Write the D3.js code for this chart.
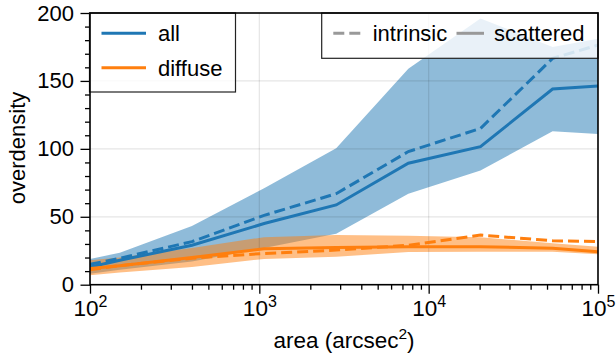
<!DOCTYPE html>
<meta charset="utf-8">

<script src="https://d3js.org/d3.v7.min.js"></script>

<style type="text/css">

body {
  margin: 0;
  background: #fff;
}

svg {
  font-family: "Liberation Sans", Arial, sans-serif;
}

.tick line {
  stroke: #000;
  stroke-width: 1.3;
}

.domain {
  display: none;
}

</style>

<body>
</body>

<script>

// area bins (arcsec^2)
var areas = [100, 150, 400, 1067, 2844, 7585, 20227, 53938, 100000];

// "all" sources
var allScattered = [13, 18, 29, 45, 58.7, 89.4, 101.6, 144, 146.3];
var allIntrinsic = [15, 19.5, 31.7, 51, 67, 98, 115, 166.6, 176.4];
var allLow = [8, 11, 17, 27, 37.5, 67, 84, 113, 111];
var allHigh = [19, 23.5, 43.2, 71, 100.4, 159, 196, 175, 181];

// "diffuse" sources
var diffuseScattered = [12, 14, 20, 26.5, 27.3, 28, 28, 26.8, 24.3];
var diffuseIntrinsic = [11, 14, 19.5, 23, 25.5, 29, 36.5, 32.4, 31.7];
var diffuseLow = [7, 9, 13, 19, 20.6, 24, 24.3, 24.3, 22.5];
var diffuseHigh = [18, 20, 27, 35, 36.6, 36, 35, 30.5, 28];

var yTicks = [0, 50, 100, 150, 200];
var xTicks = [1e2, 1e3, 1e4, 1e5];

var width = 616;
var height = 361;

var mLeft = 90, mRight = 598, mTop = 13, mBottom = 284.7;

var blue = "#1f77b4";
var orange = "#ff7f0e";

var svg = d3.select("body").append("svg")
  .attr("width", width)
  .attr("height", height);

var xScale = d3.scaleLog()
  .domain([1e2, 1e5])
  .range([mLeft, mRight]);

var yScale = d3.scaleLinear()
  .domain([0, 200])
  .range([mBottom, mTop]);

function rows(lo, hi) {
  return areas.map(function(a, i) { return {a: a, lo: lo[i], hi: hi[i]}; });
}

function pts(vals) {
  return areas.map(function(a, i) { return {a: a, v: vals[i]}; });
}

var band = d3.area()
  .x(function(d) { return xScale(d.a); })
  .y0(function(d) { return yScale(d.lo); })
  .y1(function(d) { return yScale(d.hi); });

var line = d3.line()
  .x(function(d) { return xScale(d.a); })
  .y(function(d) { return yScale(d.v); });

svg.append("clipPath").attr("id", "plot")
  .append("rect")
  .attr("x", mLeft).attr("y", mTop)
  .attr("width", mRight - mLeft).attr("height", mBottom - mTop);

var plot = svg.append("g").attr("clip-path", "url(#plot)");

// bands
plot.append("path")
  .datum(rows(allLow, allHigh))
  .attr("d", band)
  .attr("fill", blue)
  .attr("fill-opacity", 0.5);

plot.append("path")
  .datum(rows(diffuseLow, diffuseHigh))
  .attr("d", band)
  .attr("fill", orange)
  .attr("fill-opacity", 0.5);

// grid
plot.selectAll(".hgrid")
  .data(yTicks).enter().append("line")
  .attr("class", "hgrid")
  .attr("x1", mLeft).attr("x2", mRight)
  .attr("y1", function(d) { return yScale(d); })
  .attr("y2", function(d) { return yScale(d); })
  .attr("stroke", "rgba(0,0,0,0.1)")
  .attr("stroke-width", 1.2);

plot.selectAll(".vgrid")
  .data(xTicks).enter().append("line")
  .attr("class", "vgrid")
  .attr("y1", mTop).attr("y2", mBottom)
  .attr("x1", function(d) { return xScale(d); })
  .attr("x2", function(d) { return xScale(d); })
  .attr("stroke", "rgba(0,0,0,0.1)")
  .attr("stroke-width", 1.2);

// lines
var series = [
  {vals: allIntrinsic, color: blue, dash: "11,5"},
  {vals: allScattered, color: blue, dash: null},
  {vals: diffuseIntrinsic, color: orange, dash: "11,5"},
  {vals: diffuseScattered, color: orange, dash: null}
];

plot.selectAll(".series")
  .data(series).enter().append("path")
  .attr("class", "series")
  .attr("d", function(d) { return line(pts(d.vals)); })
  .attr("fill", "none")
  .attr("stroke", function(d) { return d.color; })
  .attr("stroke-width", 3)
  .attr("stroke-dasharray", function(d) { return d.dash; });

// axes
var yAxis = svg.append("g")
  .attr("transform", "translate(" + mLeft + ",0)")
  .call(d3.axisLeft(yScale).tickValues(yTicks).tickSize(9.5).tickPadding(6.5));

yAxis.selectAll("text")
  .attr("font-size", 22)
  .attr("fill", "#000");

svg.append("g")
  .attr("transform", "translate(" + mLeft + ",0)")
  .call(d3.axisLeft(yScale).tickValues(d3.range(0, 201, 10).filter(function(v) { return v % 50; }))
    .tickSize(5).tickFormat(""));

var minorX = [];
[1e2, 1e3, 1e4].forEach(function(dec) {
  for (var k = 2; k < 10; k++) minorX.push(dec * k);
});

var xAxis = svg.append("g")
  .attr("transform", "translate(0," + mBottom + ")")
  .call(d3.axisBottom(xScale).tickValues(xTicks).tickSize(9).tickPadding(8).tickFormat(""));

xAxis.selectAll(".tick").append("text")
  .attr("y", 31.5)
  .attr("text-anchor", "middle")
  .attr("font-size", 22.5)
  .attr("fill", "#000")
  .each(function(d) {
    var t = d3.select(this);
    t.append("tspan").text("10");
    t.append("tspan")
      .attr("font-size", 16)
      .attr("dy", -9.5)
      .text(Math.round(Math.log10(d)));
  });

svg.append("g")
  .attr("transform", "translate(0," + mBottom + ")")
  .call(d3.axisBottom(xScale).tickValues(minorX).tickSize(5).tickFormat(""));

// axis labels
svg.append("text")
  .attr("transform", "translate(25,148) rotate(-90)")
  .attr("text-anchor", "middle")
  .attr("font-size", 22)
  .text("overdensity");

var xLabel = svg.append("text")
  .attr("x", (mLeft + mRight) / 2)
  .attr("y", 348)
  .attr("text-anchor", "middle")
  .attr("font-size", 22.5);
xLabel.append("tspan").text("area (arcsec");
xLabel.append("tspan").attr("font-size", 15.5).attr("dy", -9).text("2");
xLabel.append("tspan").attr("dy", 9).text(")");

// legend: colours
var leg1 = svg.append("g");
leg1.append("rect")
  .attr("x", 89.5).attr("y", 13)
  .attr("width", 146).attr("height", 79)
  .attr("fill", "rgba(255,255,255,0.8)")
  .attr("stroke", "#222")
  .attr("stroke-width", 1.2);

var leg1Items = [{name: "all", color: blue, y: 33.3}, {name: "diffuse", color: orange, y: 67.7}];

var leg1Row = leg1.selectAll(".leg1Row")
  .data(leg1Items).enter().append("g")
  .attr("class", "leg1Row")
  .attr("transform", function(d) { return "translate(0," + d.y + ")"; });

leg1Row.append("line")
  .attr("x1", 101.5).attr("x2", 146)
  .attr("stroke", function(d) { return d.color; })
  .attr("stroke-width", 3);

leg1Row.append("text")
  .attr("x", 158).attr("y", 8)
  .attr("font-size", 22)
  .text(function(d) { return d.name; });

// legend: line styles
var leg2 = svg.append("g");
leg2.append("rect")
  .attr("x", 321.7).attr("y", 13)
  .attr("width", mRight - 321.7).attr("height", 45.3)
  .attr("fill", "rgba(255,255,255,0.8)")
  .attr("stroke", "#222")
  .attr("stroke-width", 1.2);

var leg2Items = [
  {name: "intrinsic", dash: "11,5", x: 333.3, tx: 372.7},
  {name: "scattered", dash: null, x: 456.5, tx: 494}
];

var leg2Row = leg2.selectAll(".leg2Row")
  .data(leg2Items).enter().append("g")
  .attr("class", "leg2Row")
  .attr("transform", "translate(0,33.3)");

leg2Row.append("line")
  .attr("x1", function(d) { return d.x; })
  .attr("x2", function(d) { return d.x + 27.5; })
  .attr("stroke", "#999")
  .attr("stroke-width", 3)
  .attr("stroke-dasharray", function(d) { return d.dash; });

leg2Row.append("text")
  .attr("x", function(d) { return d.tx; }).attr("y", 8)
  .attr("font-size", 22)
  .text(function(d) { return d.name; });

// frame
svg.append("rect")
  .attr("x", mLeft).attr("y", mTop)
  .attr("width", mRight - mLeft).attr("height", mBottom - mTop)
  .attr("fill", "none")
  .attr("stroke", "#000")
  .attr("stroke-width", 1.6);

</script>
